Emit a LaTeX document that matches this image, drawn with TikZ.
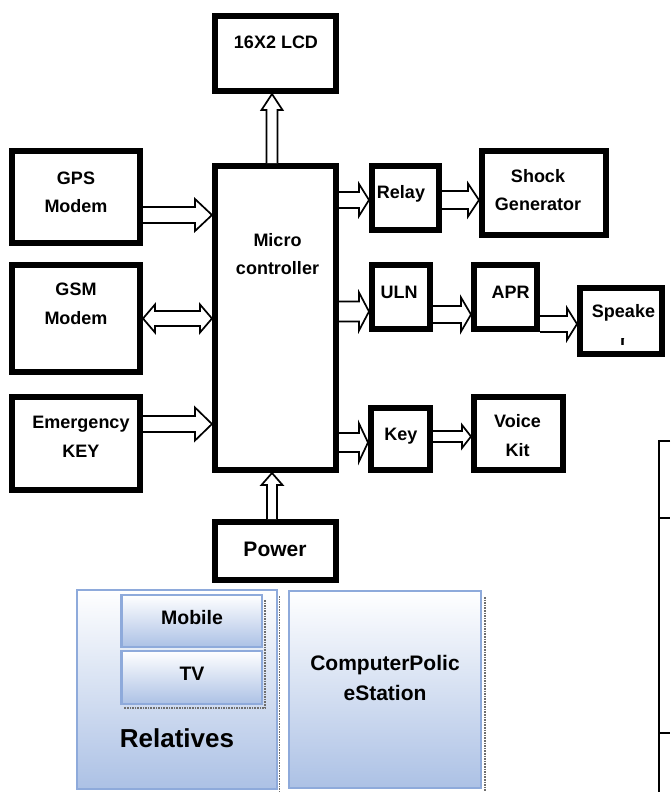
\documentclass[tikz,border=0pt]{standalone}
\usepackage{fontspec}
\setmainfont{Liberation Sans}
\usetikzlibrary{calc}

\definecolor{panelblue}{RGB}{172,193,229}
\definecolor{paneledge}{RGB}{142,170,219}
\definecolor{shadowgray}{RGB}{110,110,110}

% right-pointing block arrow: from, to, y, shaft half, head half, head length
\newcommand\arrowright[6]{%
  \path[barrow] let \p1=(#1.east), \p2=(#2.west), \p3=(0,#3) in
    (\x1,\y3+#4) -- (\x2-#6,\y3+#4) -- (\x2-#6,\y3+#5) -- (\x2,\y3)
    -- (\x2-#6,\y3-#5) -- (\x2-#6,\y3-#4) -- (\x1,\y3-#4);}
% upward block arrow: from (lower node), to (upper node), x, shaft half, head half, head length
\newcommand\arrowup[6]{%
  \path[barrow] let \p1=(#1.north), \p2=(#2.south), \p3=(#3,0) in
    (\x3-#4,\y1) -- (\x3-#4,\y2-#6) -- (\x3-#5,\y2-#6) -- (\x3,\y2)
    -- (\x3+#5,\y2-#6) -- (\x3+#4,\y2-#6) -- (\x3+#4,\y1);}

\tikzset{
  hwbox/.style={draw=black, line width=6pt, fill=white, inner sep=0pt},
  barrow/.style={draw=black, fill=white, line width=1.7pt, line join=miter},
  lbl/.style={inner sep=0pt, align=center,
    font=\fontsize{18}{28.5}\selectfont\bfseries},
  panel/.style={draw=paneledge, line width=2pt, inner sep=0pt,
    top color=white, bottom color=panelblue},
  subpanel/.style={draw=paneledge, line width=2.5pt, inner sep=0pt,
    top color=white, bottom color=panelblue},
  shadowline/.style={draw=shadowgray, line width=1.6pt, densely dotted},
  tableline/.style={draw=black, line width=2.6pt}
}

\begin{document}
\begin{tikzpicture}[x=1pt, y=-1pt]
\useasboundingbox (0,0) rectangle (670,792);
\fill[white] (0,0) rectangle (670,792);

% ---- hardware blocks ----
\node[hwbox, minimum width=121pt, minimum height=75pt]  (lcd)   at (275.5,53.5) {};
\node[hwbox, minimum width=128pt, minimum height=92pt]  (gps)   at (76,197) {};
\node[hwbox, minimum width=121pt, minimum height=304pt] (mcu)   at (275.5,318) {};
\node[hwbox, minimum width=128pt, minimum height=107pt] (gsm)   at (76,318.5) {};
\node[hwbox, minimum width=128pt, minimum height=93pt]  (emg)   at (76,443.5) {};
\node[hwbox, minimum width=121pt, minimum height=58pt]  (power) at (275.5,551) {};
\node[hwbox, minimum width=67pt,  minimum height=64pt]  (relay) at (405.5,198) {};
\node[hwbox, minimum width=124pt, minimum height=84pt]  (shock) at (544,193) {};
\node[hwbox, minimum width=58pt,  minimum height=64pt]  (uln)   at (401,297) {};
\node[hwbox, minimum width=63pt,  minimum height=64pt]  (apr)   at (505.5,297) {};
\node[hwbox, minimum width=82pt,  minimum height=66pt]  (spk)   at (621,321) {};
\node[hwbox, minimum width=59pt,  minimum height=62pt]  (key)   at (400.5,439) {};
\node[hwbox, minimum width=89pt,  minimum height=73pt]  (voice) at (518.5,433.5) {};

% ---- labels ----
\node[lbl] (lcdT)   at (276,42)    {16X2 LCD};
\node[lbl] (gpsT)   at (76,192.5)  {GPS\\Modem};
\node[lbl] (mcuT)   at (277.5,254) {Micro\\controller};
\node[lbl] (gsmT)   at (76,304)    {GSM\\Modem};
\node[lbl] (emgT)   at (81,437)    {Emergency\\KEY};
\node[lbl, font=\fontsize{21}{25}\selectfont\bfseries] (powerT) at (275,549) {Power};
\node[lbl] (relayT) at (401,194)   {Relay};
\node[lbl] (shockT) at (538,190)   {Shock\\Generator};
\node[lbl] (ulnT)   at (399,292)   {ULN};
\node[lbl] (aprT)   at (510.5,292) {APR};
\node[lbl] (spkT)   at (623.5,313) {Speake};
\begin{scope}
  \clip (578,338) rectangle (664,352);
  \node[lbl, anchor=base] (spkR) at (623.5,345.5) {r};
\end{scope}
\node[lbl] (keyT)   at (401,436)   {Key};
\node[lbl] (voiceT) at (517.5,435.5) {Voice\\Kit};

% ---- connections ----
\arrowup{mcu}{lcd}{272}{5.5pt}{10.5pt}{16pt}
\arrowup{power}{mcu}{272}{5pt}{10.5pt}{12pt}
\arrowright{gps}{mcu}{215}{8pt}{16pt}{17pt}
\arrowright{emg}{mcu}{424}{8pt}{16.5pt}{17pt}
\path[barrow] let \p1=(gsm.east), \p2=(mcu.west), \p3=(0,318.5) in
  (\x1,\y3) -- (\x1+12pt,\y3+14pt) -- (\x1+12pt,\y3+7.5pt) -- (\x2-12pt,\y3+7.5pt)
  -- (\x2-12pt,\y3+14pt) -- (\x2,\y3) -- (\x2-12pt,\y3-14pt) -- (\x2-12pt,\y3-7.5pt)
  -- (\x1+12pt,\y3-7.5pt) -- (\x1+12pt,\y3-14pt) -- cycle;
\arrowright{mcu}{relay}{200}{8pt}{16pt}{10pt}
\arrowright{relay}{shock}{200}{9pt}{16.5pt}{11pt}
\arrowright{mcu}{uln}{311.5}{10pt}{19pt}{10pt}
\arrowright{uln}{apr}{314.5}{8.5pt}{17pt}{10pt}
\arrowright{apr}{spk}{324}{8pt}{16pt}{10pt}
\arrowright{mcu}{key}{442.5}{9.5pt}{19pt}{9pt}
\arrowright{key}{voice}{436.5}{5.5pt}{11.5pt}{9pt}

% ---- receiving side panels ----
\draw[shadowline] (279.5,596) -- (279.5,792);
\draw[shadowline] (485,597) -- (485,792);
\node[panel, minimum width=200pt, minimum height=199pt] (rel) at (177,689.5) {};
\node[panel, minimum width=192pt, minimum height=197pt] (pol) at (385,689.5) {};
\draw[shadowline] (265,600) -- (265,708) -- (124,708);
\node[subpanel, minimum width=140.5pt, minimum height=52pt]   (mob) at (191.5,621) {};
\node[subpanel, minimum width=140.5pt, minimum height=53pt]   (tv)  at (191.5,677.5) {};
\node[lbl, font=\fontsize{19.5}{24}\selectfont\bfseries] (mobT) at (192,618) {Mobile};
\node[lbl, font=\fontsize{19.5}{24}\selectfont\bfseries] (tvT)  at (192,674) {TV};
\node[lbl, font=\fontsize{26}{30}\selectfont\bfseries] (relT) at (177,738) {Relatives};
\node[lbl, font=\fontsize{21}{30}\selectfont\bfseries] (polT) at (385,678) {ComputerPolic\\eStation};

% ---- partially shown table at the right edge ----
\draw[tableline] (670,441) -- (659,441) -- (659,792);
\draw[tableline] (659,518) -- (670,518);
\draw[tableline] (659,733) -- (670,733);
\end{tikzpicture}
\end{document}
